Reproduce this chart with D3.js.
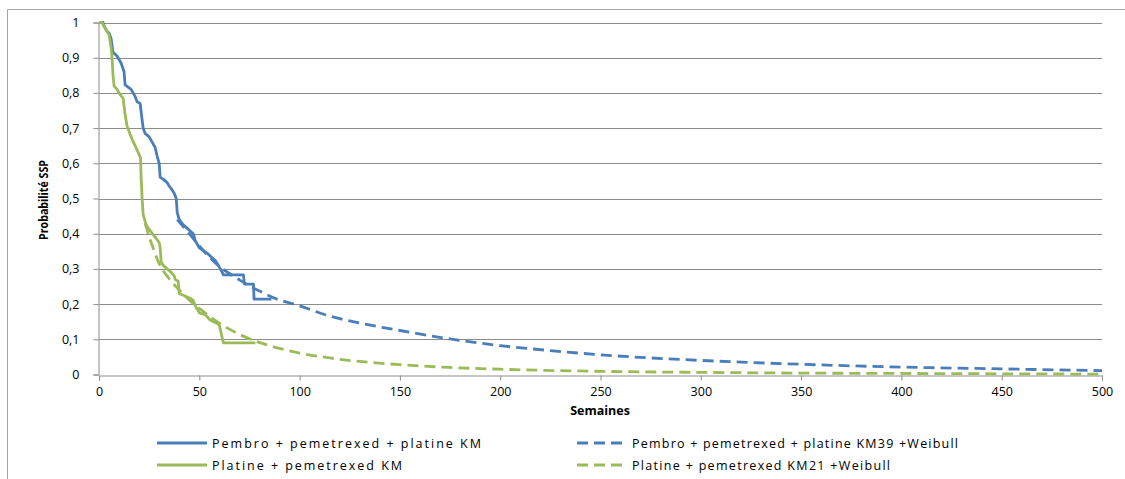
<!DOCTYPE html>
<html>
<head>
<meta charset="utf-8">
<script src="https://cdn.jsdelivr.net/npm/d3@7"></script>
<style>
  html, body { margin: 0; padding: 0; background: #fff; }
  svg { display: block; }
  text { font-family: "Open Sans", "DejaVu Sans", sans-serif; fill: #000; }
</style>
</head>
<body>
<svg id="chart" width="1125" height="479"></svg>
<script>
// Kaplan-Meier vertices (weeks, survival probability)
const pembroKmWeeks = [0,2,2.5,4,5,6,7,9,11,12.5,13,16,18,19,20.5,22,23,25,26,28,29,30,30.5,32,34,35,36,37.5,38.5,39,40,42,44,46,47,48,50,52,54,56,58,60,61,62,72,72.5,77,77.3,86];
const pembroKmSurv  = [1,1,0.99,0.975,0.97,0.955,0.915,0.905,0.885,0.86,0.823,0.81,0.79,0.775,0.77,0.70,0.685,0.675,0.665,0.645,0.62,0.60,0.56,0.555,0.545,0.535,0.528,0.515,0.50,0.46,0.44,0.425,0.415,0.405,0.40,0.38,0.36,0.352,0.344,0.334,0.324,0.305,0.295,0.283,0.283,0.257,0.257,0.214,0.214];

const platKmWeeks = [0,1.5,3,4,5,6,6.5,7,7.5,9,10.5,12,13,14,15,16.5,18,20,20.7,21,21.5,22,23,24,26,28,30,30.5,31,32,34,36,37.5,38,39.5,40,42,44,46,47,48,50,53,55,57,59,60,62,78];
const platKmSurv  = [1,1,0.985,0.975,0.965,0.93,0.90,0.85,0.82,0.81,0.795,0.785,0.74,0.705,0.69,0.668,0.65,0.625,0.615,0.56,0.50,0.455,0.435,0.42,0.405,0.39,0.375,0.36,0.32,0.31,0.30,0.29,0.28,0.27,0.265,0.23,0.225,0.22,0.215,0.21,0.195,0.175,0.17,0.157,0.15,0.145,0.14,0.09,0.09];

// Weibull extrapolations (KM up to cut-off week, then parametric tail)
const pembroWbWeeks = [39,45,50,55,60,65,70,75,80,87,100,115,130,150,175,200,225,250,275,300,350,400,450,500];
const pembroWbSurv  = [0.44,0.40,0.365,0.334,0.307,0.287,0.269,0.252,0.237,0.218,0.195,0.166,0.146,0.125,0.101,0.082,0.068,0.056,0.047,0.040,0.029,0.021,0.016,0.011];

const platWbWeeks = [23,24,26,30,35,40,45,50,55,60,65,70,77,85,100,115,130,150,175,200,250,300,350,400,450,500];
const platWbSurv  = [0.43,0.41,0.375,0.315,0.272,0.24,0.212,0.188,0.166,0.146,0.129,0.114,0.097,0.082,0.061,0.047,0.037,0.028,0.020,0.015,0.009,0.006,0.004,0.003,0.002,0.001];

const xTicks = [0,50,100,150,200,250,300,350,400,450,500];
const yTicks = [0,0.1,0.2,0.3,0.4,0.5,0.6,0.7,0.8,0.9,1];

const seriesNames = [
  "Pembro + pemetrexed + platine KM",
  "Pembro + pemetrexed + platine KM39 +Weibull",
  "Platine + pemetrexed KM",
  "Platine + pemetrexed KM21 +Weibull"
];

const blue = "#4a7ebb";
const green = "#9bbb59";

const svg = d3.select("#chart");
const plot = { left: 99, right: 1102, top: 22.5, bottom: 374.5 };

const x = d3.scaleLinear().domain([0, 500]).range([plot.left, plot.right]);
const y = d3.scaleLinear().domain([0, 1]).range([plot.bottom, plot.top]);

// outer frame (left and top edges)
svg.append("path")
  .attr("d", "M7.5,479 L7.5,9.5 L1125,9.5")
  .attr("fill", "none").attr("stroke", "#a6a6a6").attr("stroke-width", 1);

// horizontal gridlines
svg.append("g").selectAll("line")
  .data(yTicks.filter(d => d > 0))
  .join("line")
  .attr("x1", plot.left).attr("x2", plot.right)
  .attr("y1", d => Math.round(y(d)) + 0.5).attr("y2", d => Math.round(y(d)) + 0.5)
  .attr("stroke", "#8c8c8c").attr("stroke-width", 1);

// axes
const fmt = d => String(d).replace(".", ",");
const xAxis = svg.append("g")
  .attr("transform", `translate(0,${Math.round(plot.bottom) + 0.5})`)
  .call(d3.axisBottom(x).tickValues(xTicks).tickSize(5).tickPadding(7).tickFormat(d => d));
const yAxis = svg.append("g")
  .attr("transform", `translate(${plot.left - 0.5},0)`)
  .call(d3.axisLeft(y).tickValues(yTicks).tickSize(5).tickPadding(14).tickFormat(fmt));
[xAxis, yAxis].forEach(g => {
  g.select(".domain").attr("stroke", "#8c8c8c");
  g.selectAll(".tick line").attr("stroke", "#8c8c8c");
  g.selectAll(".tick text")
    .style("font-family", '"Open Sans", sans-serif')
    .style("font-size", "12.5px").attr("fill", "#222");
});

// series
const line = d3.line().x(d => x(d[0])).y(d => y(d[1]));
const smooth = d3.line().x(d => x(d[0])).y(d => y(d[1])).curve(d3.curveMonotoneX);
const zip = (a, b) => a.map((v, i) => [v, b[i]]);

svg.append("path").datum(zip(pembroWbWeeks, pembroWbSurv))
  .attr("d", smooth).attr("fill", "none").attr("stroke", blue)
  .attr("stroke-width", 2.8).attr("stroke-dasharray", "11,6");
svg.append("path").datum(zip(platWbWeeks, platWbSurv))
  .attr("d", smooth).attr("fill", "none").attr("stroke", green)
  .attr("stroke-width", 2.8).attr("stroke-dasharray", "11,6");
svg.append("path").datum(zip(pembroKmWeeks, pembroKmSurv))
  .attr("d", line).attr("fill", "none").attr("stroke", blue)
  .attr("stroke-width", 2.8).attr("stroke-linejoin", "round");
svg.append("path").datum(zip(platKmWeeks, platKmSurv))
  .attr("d", line).attr("fill", "none").attr("stroke", green)
  .attr("stroke-width", 2.8).attr("stroke-linejoin", "round");

// axis titles
svg.append("text")
  .attr("x", 600).attr("y", 415).attr("text-anchor", "middle")
  .style("font-weight", "bold").style("font-size", "12.5px")
  .text("Semaines");
svg.append("text")
  .attr("transform", "translate(48,200) rotate(-90)")
  .attr("text-anchor", "middle")
  .style("font-weight", "bold").style("font-size", "12px")
  .attr("textLength", 80).attr("lengthAdjust", "spacingAndGlyphs")
  .text("Probabilité SSP");

// legend
const legend = [
  { name: seriesNames[0], color: blue, dash: null, x: 157, y: 443, w: 269 },
  { name: seriesNames[1], color: blue, dash: "11,6", x: 577, y: 443, w: 326 },
  { name: seriesNames[2], color: green, dash: null, x: 157, y: 465, w: 190 },
  { name: seriesNames[3], color: green, dash: "11,6", x: 577, y: 465, w: 258 }
];
const lg = svg.append("g").selectAll("g").data(legend).join("g")
  .attr("transform", d => `translate(${d.x},${d.y})`);
lg.append("line")
  .attr("x1", 0).attr("x2", d => d.dash ? 45 : 50)
  .attr("stroke", d => d.color).attr("stroke-width", 2.8)
  .attr("stroke-dasharray", d => d.dash);
lg.append("text")
  .attr("x", 55).attr("y", 4.5)
  .style("font-size", "12.5px")
  .attr("textLength", d => d.w).attr("lengthAdjust", "spacing")
  .text(d => d.name);
</script>
</body>
</html>
